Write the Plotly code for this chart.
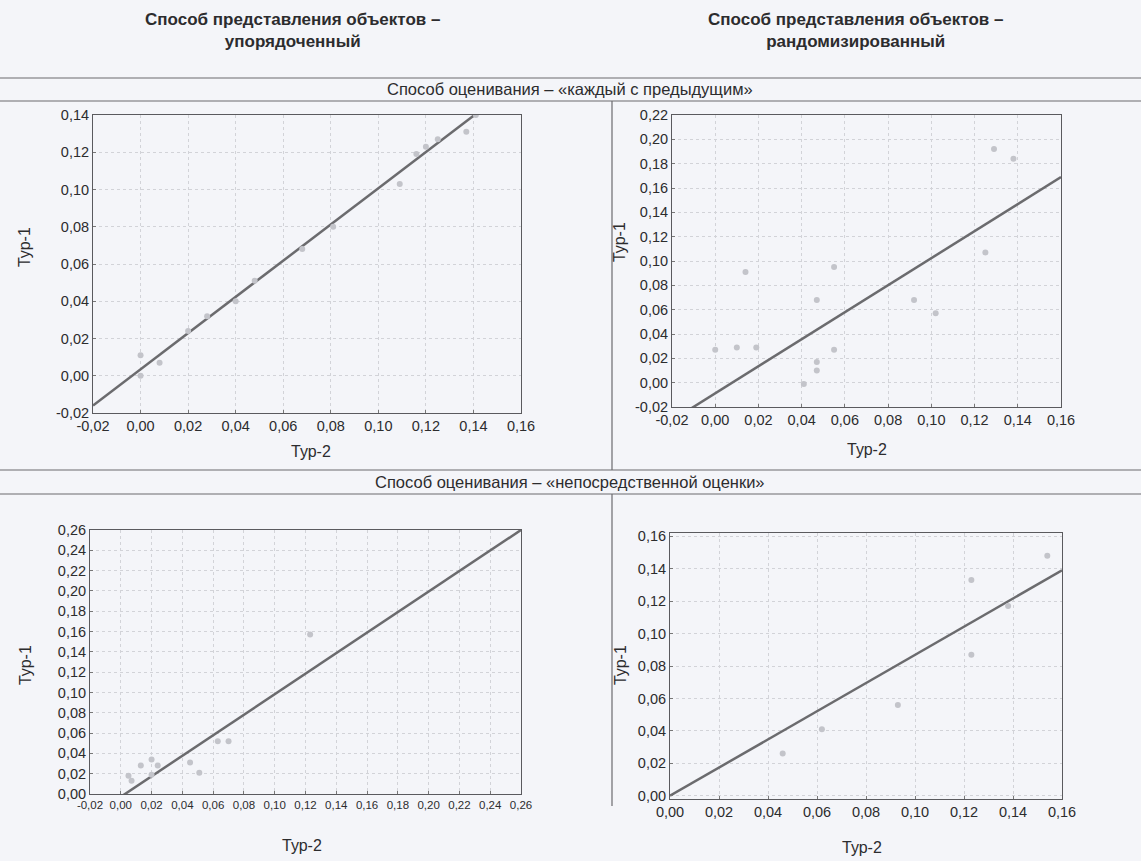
import plotly.graph_objects as go

# ---------------- data ----------------
# Panel 1: упорядоченный, «каждый с предыдущим»
p1_x = [0.000, 0.000, 0.008, 0.020, 0.028, 0.040, 0.048, 0.068, 0.081, 0.109, 0.116, 0.120, 0.125, 0.137, 0.141]
p1_y = [0.011, 0.000, 0.007, 0.024, 0.032, 0.040, 0.051, 0.068, 0.080, 0.103, 0.119, 0.123, 0.127, 0.131, 0.140]
p1_fit_x = [-0.02, 0.16]
p1_fit_y = [-0.016, 0.159]

# Panel 2: рандомизированный, «каждый с предыдущим»
p2_x = [0.000, 0.010, 0.019, 0.014, 0.041, 0.047, 0.047, 0.047, 0.055, 0.055, 0.092, 0.102, 0.125, 0.129, 0.138]
p2_y = [0.027, 0.029, 0.029, 0.091, -0.001, 0.068, 0.017, 0.010, 0.095, 0.027, 0.068, 0.057, 0.107, 0.192, 0.184]
p2_fit_x = [-0.02, 0.16]
p2_fit_y = [-0.031, 0.169]

# Panel 3: упорядоченный, «непосредственной оценки»
p3_x = [0.005, 0.007, 0.013, 0.020, 0.020, 0.024, 0.045, 0.051, 0.063, 0.070, 0.123]
p3_y = [0.018, 0.013, 0.028, 0.034, 0.019, 0.028, 0.031, 0.021, 0.052, 0.052, 0.157]
p3_fit_x = [-0.02, 0.26]
p3_fit_y = [-0.023, 0.260]

# Panel 4: рандомизированный, «непосредственной оценки»
p4_x = [0.046, 0.062, 0.093, 0.123, 0.123, 0.138, 0.154]
p4_y = [0.026, 0.041, 0.056, 0.133, 0.087, 0.117, 0.148]
p4_fit_x = [0.0, 0.16]
p4_fit_y = [0.0, 0.139]

# tick labels
ticks_m02_016 = [-0.02, 0.00, 0.02, 0.04, 0.06, 0.08, 0.10, 0.12, 0.14, 0.16]
ticks_m02_014 = [-0.02, 0.00, 0.02, 0.04, 0.06, 0.08, 0.10, 0.12, 0.14]
ticks_m02_022 = [-0.02, 0.00, 0.02, 0.04, 0.06, 0.08, 0.10, 0.12, 0.14, 0.16, 0.18, 0.20, 0.22]
ticks_m02_026 = [-0.02, 0.00, 0.02, 0.04, 0.06, 0.08, 0.10, 0.12, 0.14, 0.16, 0.18, 0.20, 0.22, 0.24, 0.26]
ticks_0_026 = [0.00, 0.02, 0.04, 0.06, 0.08, 0.10, 0.12, 0.14, 0.16, 0.18, 0.20, 0.22, 0.24, 0.26]
ticks_0_016 = [0.00, 0.02, 0.04, 0.06, 0.08, 0.10, 0.12, 0.14, 0.16]

col_titles = ["Способ представления объектов –<br>упорядоченный",
              "Способ представления объектов –<br>рандомизированный"]
row_titles = ["Способ оценивания – «каждый с предыдущим»",
              "Способ оценивания – «непосредственной оценки»"]
x_title = "Тур-2"
y_title = "Тур-1"


def lbl(vals):
    return [f"{v:.2f}".replace(".", ",") for v in vals]


W, H = 1141, 861
FONT = "Liberation Sans, Arial, sans-serif"
TXT = "#2c2c2e"
BG = "#f4f5f9"
PT = "#c3c4ca"
LINE = "#6b6b6e"


def dx(px):
    return px / W


def dy(py):
    return 1 - py / H


fig = go.Figure()

panels = [
    (p1_x, p1_y, p1_fit_x, p1_fit_y, "x", "y"),
    (p2_x, p2_y, p2_fit_x, p2_fit_y, "x2", "y2"),
    (p3_x, p3_y, p3_fit_x, p3_fit_y, "x3", "y3"),
    (p4_x, p4_y, p4_fit_x, p4_fit_y, "x4", "y4"),
]
for px_, py_, fx, fy, xa, ya in panels:
    fig.add_trace(go.Scatter(x=fx, y=fy, mode="lines", xaxis=xa, yaxis=ya,
                             line=dict(color=LINE, width=2.5), showlegend=False,
                             hoverinfo="skip"))
    fig.add_trace(go.Scatter(x=px_, y=py_, mode="markers", xaxis=xa, yaxis=ya,
                             marker=dict(color=PT, size=6), showlegend=False))

common = dict(showline=True, mirror=True, linecolor="#5a5a5e", linewidth=1,
              showgrid=True, gridcolor="#d2d3d8", griddash="dot", gridwidth=1,
              zeroline=False, ticks="inside", ticklen=3, tickcolor="#777",
              automargin=False,
              tickfont=dict(family=FONT, size=14.5, color=TXT), fixedrange=True)

# Panel positions (pixels)
pos = {
    1: (93, 521, 115, 413),
    2: (672, 1061, 115, 407),
    3: (90, 521, 530, 794),
    4: (670, 1062, 533, 799),
}


def xdom(k):
    a, b, _, _ = pos[k]
    return [dx(a), dx(b)]


def ydom(k):
    _, _, t, bt = pos[k]
    return [dy(bt), dy(t)]


fig.update_layout(
    xaxis=dict(common, domain=xdom(1), range=[-0.02, 0.16], tickvals=ticks_m02_016, ticktext=lbl(ticks_m02_016), anchor="y"),
    yaxis=dict(common, domain=ydom(1), range=[-0.02, 0.14], tickvals=ticks_m02_014, ticktext=lbl(ticks_m02_014), anchor="x"),
    xaxis2=dict(common, domain=xdom(2), range=[-0.02, 0.16], tickvals=ticks_m02_016, ticktext=lbl(ticks_m02_016), anchor="y2"),
    yaxis2=dict(common, domain=ydom(2), range=[-0.02, 0.22], tickvals=ticks_m02_022, ticktext=lbl(ticks_m02_022), anchor="x2"),
    xaxis3=dict(common, domain=xdom(3), range=[-0.02, 0.26], tickvals=ticks_m02_026, ticktext=lbl(ticks_m02_026), anchor="y3",
                tickfont=dict(family=FONT, size=11.5, color=TXT)),
    yaxis3=dict(common, domain=ydom(3), range=[0.0, 0.26], tickvals=ticks_0_026, ticktext=lbl(ticks_0_026), anchor="x3"),
    xaxis4=dict(common, domain=xdom(4), range=[0.0, 0.16], tickvals=ticks_0_016, ticktext=lbl(ticks_0_016), anchor="y4"),
    yaxis4=dict(common, domain=ydom(4), range=[-0.002, 0.162], tickvals=ticks_0_016, ticktext=lbl(ticks_0_016), anchor="x4"),
    width=W, height=H,
    margin=dict(l=0, r=0, t=0, b=0, autoexpand=False),
    paper_bgcolor=BG, plot_bgcolor=BG,
    font=dict(family=FONT, color=TXT),
)

ann = []
# column headers
for cx, t in zip([292, 855], col_titles):
    ann.append(dict(x=dx(cx), y=dy(30), text=f"<b>{t}</b>",
                    font=dict(size=17, family=FONT, color=TXT)))
# row headers
for cy, t in zip([89, 482], row_titles):
    ann.append(dict(x=dx(570), y=dy(cy), text=t,
                    font=dict(size=16.5, family=FONT, color=TXT)))
# axis titles
for (xx, xy) in [(311, 451), (867, 449), (302, 845), (862, 847)]:
    ann.append(dict(x=dx(xx), y=dy(xy), text=x_title,
                    font=dict(size=16, family=FONT, color=TXT)))
for (yx, yy) in [(25, 247), (619, 242), (25, 665), (620, 665)]:
    ann.append(dict(x=dx(yx), y=dy(yy), text=y_title, textangle=-90,
                    font=dict(size=16, family=FONT, color=TXT)))
for a in ann:
    a.update(xref="paper", yref="paper", showarrow=False, xanchor="center", yanchor="middle")
fig.update_layout(annotations=ann)

shapes = []
for yy in [78, 101, 470, 494]:
    shapes.append(dict(type="line", xref="paper", yref="paper", x0=0, x1=1, y0=dy(yy), y1=dy(yy),
                       line=dict(color="#6a6a6e", width=1.2)))
shapes.append(dict(type="line", xref="paper", yref="paper", x0=dx(612), x1=dx(612), y0=dy(101), y1=dy(470),
                   line=dict(color="#6a6a6e", width=1.2)))
shapes.append(dict(type="line", xref="paper", yref="paper", x0=dx(612), x1=dx(612), y0=dy(494), y1=dy(806),
                   line=dict(color="#6a6a6e", width=1.2)))
fig.update_layout(shapes=shapes)

fig.write_html("out.html", config={"displayModeBar": False},
               post_script="document.body.style.margin='0';document.body.style.background='%s';" % BG)
